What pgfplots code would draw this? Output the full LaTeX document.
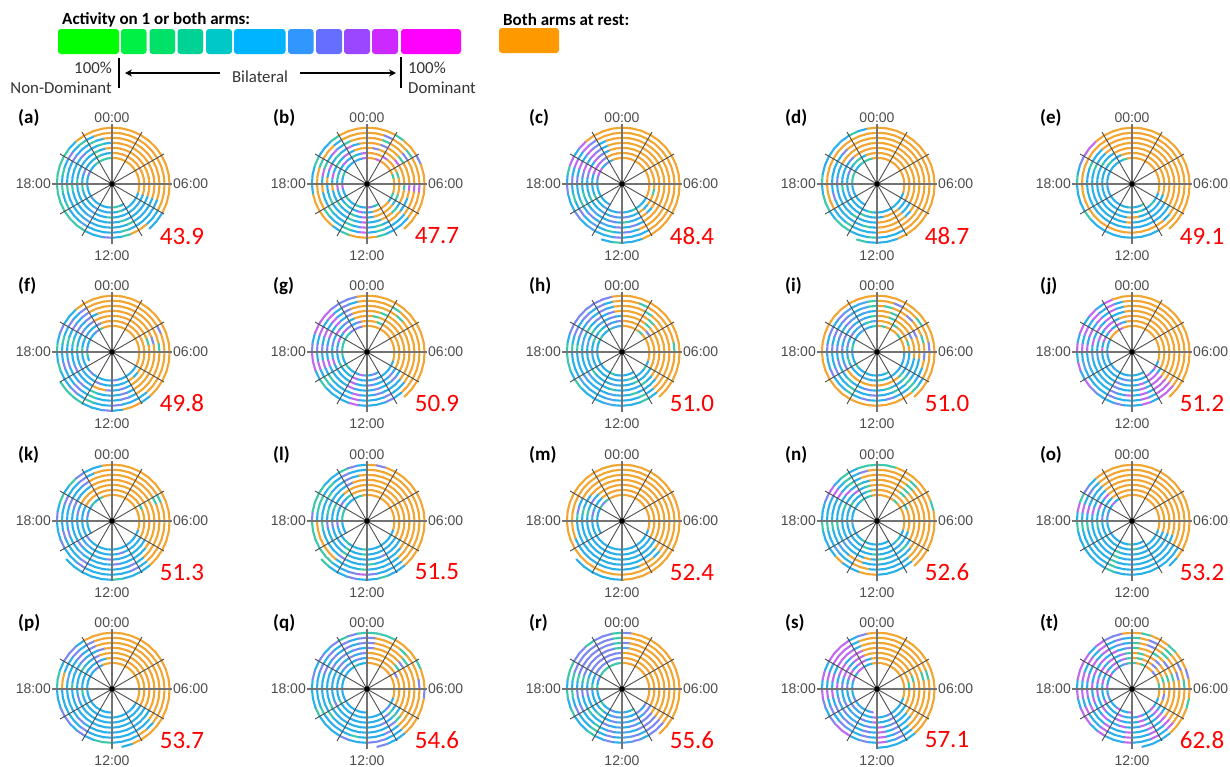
\documentclass[border=0pt]{standalone}
\usepackage{fontspec}
\setmainfont{Carlito}
\newfontfamily\arial{Liberation Sans}
\usepackage{pgfplots}
\usepackage{pgfplotstable}
\pgfplotsset{compat=1.18}
\usepgfplotslibrary{polar}
\usetikzlibrary{arrows.meta}

% one row per 10 degrees along the spiral, a = polar angle, r = radius
% pa..pt = activity class per panel: 0 blue, 1 orange, 2 green, 3 purple, 4 magenta, 5 slate
\pgfplotstableread{
a r pa pb pc pd pe pf pg ph pi pj pk pl pm pn po pp pq pr ps pt
310 23.00 0 0 0 0 0 0 0 0 0 0 0 0 0 0 0 0 0 0 0 0
300 23.14 0 2 0 0 2 0 0 0 2 0 0 0 0 0 0 0 0 2 0 0
290 23.28 2 0 0 0 0 0 3 0 0 0 0 0 0 0 0 0 0 0 0 3
280 23.42 2 4 0 0 0 0 0 0 0 0 0 0 0 0 0 0 0 5 0 0
270 23.56 0 0 3 0 2 0 0 0 0 0 5 0 0 0 2 0 0 0 0 4
260 23.70 0 0 0 2 0 0 4 0 0 0 0 0 0 0 0 0 0 0 3 0
250 23.84 0 2 0 0 0 0 0 2 0 0 0 0 0 0 0 0 0 3 0 0
240 23.98 0 0 5 0 0 0 0 0 0 0 0 0 0 2 0 0 0 0 0 4
230 24.12 0 0 0 0 0 0 0 0 0 5 0 0 0 0 0 0 0 0 5 0
220 24.26 5 2 0 0 0 0 2 0 2 0 0 0 0 0 0 0 0 2 0 0
210 24.40 0 0 0 0 0 0 0 0 0 0 0 0 0 0 0 0 0 0 3 0
200 24.54 0 0 0 0 0 0 0 0 0 0 0 0 0 0 0 0 0 0 0 3
190 24.68 0 4 0 0 0 2 2 0 0 0 0 0 0 5 0 0 0 0 0 0
180 24.82 0 0 0 2 0 3 2 0 0 0 0 2 0 0 0 0 0 2 0 4
170 24.96 0 0 3 2 0 0 2 0 2 0 3 2 0 0 3 0 0 0 0 0
160 25.10 3 2 4 2 0 0 2 0 0 0 0 2 0 0 0 0 0 3 4 0
150 25.24 0 0 4 0 0 0 2 2 0 1 0 0 2 0 0 0 0 2 0 4
140 25.38 0 0 0 0 0 0 2 0 0 1 2 0 3 0 4 0 0 2 4 0
130 25.52 2 0 3 2 0 3 3 0 5 1 0 0 2 2 0 3 0 2 4 4
120 25.66 2 5 0 2 0 2 3 2 5 4 2 0 1 0 1 0 2 2 0 0
110 25.80 2 0 1 2 2 1 3 5 0 1 1 2 1 2 1 1 0 2 0 3
100 25.94 2 4 1 1 1 1 1 5 2 1 1 1 1 1 1 1 0 2 1 2
90 26.08 1 1 1 1 1 1 1 1 1 1 1 1 1 1 1 1 1 1 1 2
80 26.22 1 1 1 1 1 1 1 1 2 1 1 1 1 1 1 1 1 1 1 1
70 26.36 1 4 1 1 1 1 1 1 1 1 1 1 1 1 1 1 1 1 1 2
60 26.50 1 1 1 1 1 1 1 1 1 1 1 1 1 1 1 1 1 1 1 1
50 26.64 1 1 1 1 1 1 1 2 1 1 1 1 1 2 1 1 1 1 1 1
40 26.78 1 1 1 1 1 1 1 1 2 1 1 1 1 1 1 1 1 1 1 3
30 26.92 1 1 1 1 1 1 1 1 1 1 1 1 1 1 1 1 1 1 1 1
20 27.06 1 2 1 1 1 1 1 1 1 1 1 1 1 1 1 1 1 1 1 1
10 27.20 1 1 1 1 1 1 1 1 1 1 1 1 1 1 1 1 1 1 1 2
0 27.34 1 1 1 1 1 1 1 1 0 1 1 1 1 1 1 1 1 1 1 1
350 27.48 1 1 1 1 1 1 1 1 5 1 1 1 1 1 1 1 1 1 1 1
340 27.62 0 2 1 0 0 1 0 0 0 0 0 0 0 0 0 1 0 1 0 0
330 27.76 0 0 0 0 0 0 0 2 0 4 0 0 0 0 0 0 0 3 0 0
320 27.90 0 1 0 0 2 0 0 0 0 0 0 0 0 2 0 0 3 0 0 4
310 28.04 0 1 0 0 0 0 0 0 0 4 0 0 0 0 0 0 0 3 0 0
300 28.18 0 1 2 0 0 0 0 0 0 0 0 0 0 0 0 0 0 0 3 0
290 28.32 2 1 0 0 2 0 3 2 0 0 0 0 0 0 0 0 0 0 0 4
280 28.46 0 0 0 0 0 3 0 0 2 0 0 0 0 0 2 0 0 5 0 0
270 28.60 0 0 3 0 0 0 0 0 0 0 0 2 0 0 0 0 0 0 4 0
260 28.74 0 4 0 2 0 0 0 0 0 3 0 0 0 0 0 0 0 3 0 0
250 28.88 0 0 0 0 0 0 4 0 5 0 0 0 0 2 0 0 0 0 0 4
240 29.02 5 0 5 0 0 0 0 0 0 0 0 0 0 0 0 0 0 0 5 0
230 29.16 0 2 0 0 0 3 0 0 0 0 0 2 0 0 0 0 0 2 0 0
220 29.30 0 0 0 0 0 0 0 0 0 0 3 0 0 0 0 0 0 0 3 0
210 29.44 0 0 2 0 0 0 2 0 0 0 0 0 0 0 0 0 2 0 0 4
200 29.58 0 0 0 5 0 0 0 0 2 0 0 0 0 0 0 0 0 0 0 0
190 29.72 2 4 0 0 0 0 0 5 0 0 0 3 0 0 0 2 0 0 0 0
180 29.86 0 0 0 0 0 2 3 0 0 4 0 0 0 0 3 0 0 2 3 0
170 30.00 0 2 0 0 0 0 0 0 3 0 0 0 3 0 0 0 0 0 0 4
160 30.14 3 0 4 3 0 0 4 2 0 4 0 0 0 0 0 0 0 0 4 0
150 30.28 0 0 4 0 0 5 0 0 3 0 1 3 0 2 0 0 0 3 4 4
140 30.42 0 4 4 2 2 0 4 2 0 4 1 0 0 0 0 0 3 3 0 0
130 30.56 0 0 3 2 0 0 3 0 5 0 1 2 1 0 1 0 0 3 4 4
120 30.70 2 2 1 0 0 3 0 3 0 4 1 1 1 0 1 3 0 3 4 0
110 30.84 0 0 1 1 1 1 3 0 2 0 1 1 1 2 1 0 3 3 0 4
100 30.98 0 4 1 1 1 1 1 3 5 1 1 1 1 1 1 1 0 3 1 2
90 31.12 1 1 1 1 1 1 1 1 1 1 1 1 1 1 1 1 1 1 1 1
80 31.26 1 1 1 1 1 1 1 1 1 1 1 1 1 1 1 1 1 1 1 2
70 31.40 1 1 1 1 1 1 2 1 1 1 1 1 1 1 1 1 1 1 1 1
60 31.54 1 4 1 1 1 1 1 1 2 1 1 1 1 1 1 1 1 1 1 1
50 31.68 1 1 1 1 1 1 1 1 1 1 1 1 1 1 1 1 1 1 1 3
40 31.82 1 1 1 1 1 1 1 3 1 1 1 1 1 1 1 1 1 1 1 1
30 31.96 1 1 1 1 1 1 1 1 1 1 2 1 1 2 1 1 3 1 1 1
20 32.10 1 2 1 1 1 1 1 1 2 1 1 1 1 1 1 1 1 1 1 2
10 32.24 1 1 1 1 1 1 1 1 1 1 1 1 1 1 1 1 1 1 2 1
0 32.38 1 1 1 1 1 1 1 1 0 1 1 1 1 1 1 1 1 1 1 1
350 32.52 1 1 2 1 1 1 1 1 0 1 1 1 1 1 1 1 1 1 1 3
340 32.66 0 2 1 1 0 1 1 1 0 1 1 1 1 0 0 1 1 1 1 1
330 32.80 0 0 1 0 0 1 0 0 0 0 0 0 0 0 0 0 0 3 0 0
320 32.94 0 1 0 0 0 0 3 0 2 4 0 0 0 0 0 0 2 3 0 4
310 33.08 0 1 1 1 0 1 0 0 1 4 0 0 0 0 0 0 3 0 0 0
300 33.22 0 1 0 1 0 0 0 2 1 0 0 0 0 0 0 0 0 3 3 0
290 33.36 0 1 0 1 0 0 0 0 1 4 3 0 0 0 0 0 0 0 0 4
280 33.50 0 0 3 0 1 0 3 0 1 0 0 0 0 0 0 0 0 5 0 0
270 33.64 2 4 0 0 1 0 0 0 1 0 0 2 0 2 0 0 0 0 4 0
260 33.78 0 0 3 0 0 0 0 5 1 0 0 0 0 0 0 0 0 3 0 0
250 33.92 0 2 0 2 0 3 4 0 1 3 0 0 0 0 2 0 0 0 3 4
240 34.06 5 0 5 0 0 0 0 0 1 0 0 2 0 0 0 0 0 0 0 0
230 34.20 0 0 0 0 0 0 0 0 1 0 5 0 0 0 0 0 0 2 5 0
220 34.34 0 2 0 0 0 0 0 2 1 0 0 0 0 5 0 0 0 0 0 4
210 34.48 0 0 2 0 0 5 0 0 3 0 0 0 0 0 0 0 3 0 3 0
200 34.62 0 0 0 0 0 0 4 0 0 0 0 0 0 0 0 3 0 0 0 0
190 34.76 0 1 0 2 0 0 0 0 0 5 0 3 0 0 2 0 0 3 0 4
180 34.90 2 0 0 0 0 2 0 0 3 0 0 0 0 0 0 0 0 0 3 0
170 35.04 0 4 3 0 0 0 3 5 0 0 3 0 2 0 0 0 0 2 0 4
160 35.18 0 0 4 0 0 0 0 0 3 4 0 2 0 2 4 0 0 0 4 0
150 35.32 0 2 0 0 2 3 4 2 0 0 1 0 3 0 0 2 0 3 4 4
140 35.46 0 0 4 3 0 0 0 0 3 4 1 0 0 0 4 0 3 3 0 0
130 35.60 0 4 3 1 0 3 3 5 0 4 1 1 1 4 1 0 0 3 4 4
120 35.74 2 0 0 1 1 1 0 0 5 0 1 1 1 0 1 3 3 3 4 0
110 35.88 0 1 1 1 1 1 1 3 0 1 1 1 1 2 1 1 0 3 1 4
100 36.02 1 1 1 1 1 1 1 0 2 1 1 1 1 1 1 1 3 3 1 2
90 36.16 1 1 1 1 1 1 1 1 1 1 1 1 1 1 1 1 1 1 1 1
80 36.30 1 3 1 1 1 1 2 1 1 1 1 1 1 1 1 1 1 1 1 2
70 36.44 1 1 1 1 1 1 1 1 2 1 1 1 1 1 1 1 1 1 1 1
60 36.58 1 1 1 1 1 1 1 1 1 1 1 1 1 1 1 1 1 1 1 1
50 36.72 1 1 1 1 1 1 1 2 1 1 1 1 1 2 1 1 1 1 1 3
40 36.86 1 4 1 1 1 1 1 1 1 1 1 1 1 1 1 1 2 1 1 1
30 37.00 1 1 1 1 1 1 1 1 3 1 1 1 1 1 1 1 1 1 1 1
20 37.14 1 1 1 1 1 2 1 1 1 1 1 1 1 1 1 1 1 1 2 2
10 37.28 1 1 1 1 1 1 1 1 1 1 1 1 1 1 1 1 1 1 1 1
0 37.42 1 2 1 1 1 1 1 1 1 1 1 1 1 1 1 1 1 1 1 1
350 37.56 1 1 1 1 1 1 1 1 0 1 1 1 1 1 1 1 1 1 1 1
340 37.70 0 1 1 1 1 1 1 1 0 1 1 1 1 1 0 1 1 1 1 1
330 37.84 0 0 1 0 0 1 0 1 0 1 0 0 0 0 0 0 0 1 1 0
320 37.98 0 2 0 0 0 1 3 0 2 4 0 0 0 2 0 0 2 3 0 4
310 38.12 0 1 1 1 0 1 0 2 0 4 0 0 0 0 0 0 0 3 0 0
300 38.26 0 1 0 1 0 0 0 0 0 0 0 3 0 0 0 0 3 0 3 0
290 38.40 2 0 0 1 0 3 3 0 2 4 0 0 0 0 0 0 0 3 0 4
280 38.54 0 0 2 1 0 0 0 0 0 0 0 0 0 2 0 0 0 0 4 0
270 38.68 0 4 0 0 1 3 0 0 0 0 3 0 0 0 0 0 0 5 0 0
260 38.82 0 0 3 0 0 1 0 2 3 0 0 0 0 1 0 0 0 0 3 4
250 38.96 0 2 0 0 0 1 4 0 0 3 0 0 0 0 2 0 0 3 0 0
240 39.10 5 0 0 2 0 0 0 0 0 0 0 2 0 0 0 0 0 0 5 0
230 39.24 0 0 5 0 0 0 0 0 2 0 0 0 0 0 0 0 0 0 0 4
220 39.38 0 0 0 0 0 0 0 5 0 0 3 0 0 5 0 0 0 2 3 0
210 39.52 0 2 0 0 0 3 0 0 0 0 0 0 0 0 0 0 2 0 0 0
200 39.66 0 0 2 0 0 0 4 0 3 0 0 0 0 0 0 0 0 0 3 4
190 39.80 2 0 0 0 0 0 0 0 0 5 0 3 0 2 0 0 0 3 0 0
180 39.94 0 1 0 3 0 0 3 0 3 0 0 0 0 0 0 2 0 0 4 4
170 40.08 0 0 3 0 0 2 0 5 0 4 0 2 2 0 4 0 0 2 0 0
160 40.22 0 4 4 0 2 0 4 0 3 0 3 0 0 0 0 0 0 3 4 4
150 40.36 0 0 0 1 0 3 0 2 0 4 0 0 0 0 0 0 3 3 4 0
140 40.50 3 2 4 1 0 0 4 0 3 0 0 0 1 4 0 3 0 3 0 4
130 40.64 0 0 3 1 1 3 0 3 5 4 0 0 1 0 1 0 3 3 4 0
120 40.78 0 4 0 1 1 0 3 0 0 0 1 3 1 2 1 0 0 3 4 4
110 40.92 2 0 1 1 1 1 1 3 5 0 1 1 1 0 1 3 3 3 1 0
100 41.06 0 1 1 1 1 1 1 1 0 1 1 1 1 1 1 1 0 2 1 3
90 41.20 1 1 1 1 1 1 1 1 1 1 1 1 1 1 1 1 3 5 1 2
80 41.34 1 1 1 1 1 1 1 1 1 1 1 1 1 1 1 1 1 1 1 1
70 41.48 1 3 1 1 1 1 2 1 2 1 1 1 1 1 1 1 1 1 1 1
60 41.62 1 1 1 1 1 1 1 1 1 1 1 1 1 1 1 1 1 1 1 2
50 41.76 1 1 1 1 1 1 1 2 1 1 1 1 1 2 1 1 1 1 1 1
40 41.90 1 2 1 1 1 1 1 1 1 1 1 1 1 1 1 1 3 1 1 3
30 42.04 1 1 1 1 1 1 1 1 3 1 1 1 1 1 1 1 1 1 1 1
20 42.18 1 1 1 1 1 3 1 1 1 1 1 1 1 1 1 1 1 1 1 2
10 42.32 1 1 1 1 1 1 1 1 1 1 1 1 1 1 1 1 1 1 1 1
0 42.46 1 4 1 1 1 1 1 1 1 1 1 1 1 1 1 1 1 1 1 1
350 42.60 1 1 1 1 1 1 1 1 0 1 1 1 1 1 1 1 1 1 1 1
340 42.74 0 0 1 1 1 1 1 1 0 1 1 1 1 1 0 1 1 1 1 1
330 42.88 0 0 1 1 0 1 1 1 0 1 1 1 1 1 0 0 1 1 1 1
320 43.02 0 1 1 0 0 1 0 0 2 4 0 0 0 0 0 0 2 3 0 4
310 43.16 0 1 1 1 0 1 0 0 0 4 0 0 0 0 0 0 3 3 0 0
300 43.30 2 0 0 1 0 0 0 0 2 0 0 0 0 0 0 0 0 3 3 4
290 43.44 0 2 3 1 0 3 3 2 0 4 0 0 0 0 0 0 0 0 0 0
280 43.58 0 0 0 1 0 0 0 0 0 0 3 2 0 0 0 0 0 5 4 0
270 43.72 0 4 3 0 0 0 0 0 3 4 0 0 0 0 0 0 0 0 0 4
260 43.86 0 0 0 2 0 0 4 5 0 0 0 0 0 0 0 0 0 3 3 0
250 44.00 0 2 5 0 0 2 0 0 0 3 0 0 0 1 2 0 0 0 0 0
240 44.14 5 0 0 0 0 0 0 0 2 0 0 3 0 1 0 0 0 2 5 4
230 44.28 0 0 3 0 0 3 0 0 0 0 5 0 0 0 0 3 0 0 3 0
220 44.42 0 2 0 0 0 0 2 5 0 0 0 0 0 5 0 0 2 0 0 0
210 44.56 0 0 2 0 0 0 0 0 3 0 0 0 0 0 0 0 0 3 3 4
200 44.70 0 0 0 3 0 3 4 0 0 5 3 0 0 0 0 0 0 0 0 0
190 44.84 2 1 0 0 0 0 0 0 0 0 0 2 0 2 2 0 0 3 4 4
180 44.98 0 0 3 0 0 0 3 2 3 4 0 0 2 0 0 0 0 0 0 0
170 45.12 0 4 0 0 0 2 0 0 0 0 0 0 3 0 4 5 0 2 4 4
160 45.26 0 2 4 0 2 0 4 3 3 4 3 0 0 0 0 0 3 3 0 0
150 45.40 3 0 0 0 0 3 0 0 0 0 0 2 1 4 0 0 0 3 4 4
140 45.54 0 4 4 3 0 0 4 3 3 4 0 0 1 0 0 3 3 3 4 0
130 45.68 0 0 3 1 1 3 0 0 5 0 3 0 1 2 1 0 0 3 4 4
120 45.82 2 2 0 1 1 1 3 3 0 4 1 3 1 0 1 3 3 3 0 0
110 45.96 0 1 1 1 1 1 1 0 5 0 1 0 1 1 1 1 0 3 1 3
100 46.10 1 1 1 1 1 1 1 1 2 1 1 1 1 1 1 1 3 2 1 0
90 46.24 1 1 1 1 1 1 1 1 1 1 1 1 1 1 1 1 3 3 1 2
80 46.38 1 1 1 1 1 1 1 1 2 1 1 1 1 1 1 1 1 1 1 1
70 46.52 1 2 1 1 1 1 1 1 1 1 1 1 1 1 1 1 1 1 1 3
60 46.66 1 1 1 1 1 1 1 2 1 1 1 1 1 1 1 1 1 1 1 1
50 46.80 1 1 1 1 1 1 2 1 3 1 1 1 1 2 1 1 1 1 1 2
40 46.94 1 3 1 1 1 1 1 1 1 1 1 1 1 1 1 1 2 1 1 1
30 47.08 1 1 1 1 1 1 1 1 1 1 2 1 1 1 1 1 1 1 1 1
20 47.22 1 1 1 1 1 1 1 1 2 1 1 1 1 1 1 1 1 1 2 3
10 47.36 1 1 1 1 1 2 1 1 1 1 1 1 1 1 1 1 1 1 1 1
0 47.50 1 4 1 1 1 1 1 1 3 1 1 1 1 1 1 1 1 1 1 1
350 47.64 1 1 1 1 1 1 1 1 1 1 1 1 1 1 1 1 1 1 1 1
340 47.78 0 1 1 1 1 1 1 1 0 1 1 1 1 1 1 1 1 1 1 1
330 47.92 0 1 1 1 1 1 1 1 0 1 1 1 1 1 0 1 1 1 1 1
320 48.06 0 0 1 1 0 1 0 1 2 4 1 1 0 1 0 0 1 3 1 4
310 48.20 0 0 1 1 1 1 0 0 0 4 0 0 1 0 0 0 0 3 0 0
300 48.34 0 0 1 1 1 0 3 2 0 0 3 0 1 0 0 0 3 0 3 4
290 48.48 2 2 0 1 1 3 0 0 3 4 0 0 0 0 0 0 0 3 0 0
280 48.62 0 0 3 1 1 0 0 0 0 0 0 0 0 0 0 0 0 5 4 0
270 48.76 0 4 0 0 1 0 0 0 0 0 0 2 0 0 0 0 0 0 0 4
260 48.90 0 0 2 0 1 0 4 5 3 0 0 0 0 1 0 0 2 3 3 0
250 49.04 0 2 0 0 1 2 0 0 0 3 0 0 0 1 2 0 0 0 0 0
240 49.18 5 0 5 2 1 0 0 0 2 0 3 0 0 0 0 3 0 2 5 4
230 49.32 0 0 0 0 1 3 0 0 0 0 0 1 0 0 0 0 0 0 3 0
220 49.46 0 2 3 0 1 0 2 5 0 0 0 1 0 5 0 0 0 0 0 0
210 49.60 2 1 0 1 1 0 0 0 3 0 0 1 0 0 0 0 2 3 3 4
200 49.74 0 1 2 1 1 3 4 0 0 5 3 1 1 0 0 0 0 0 0 0
190 49.88 2 1 0 1 1 0 0 0 0 0 0 1 1 2 2 0 0 2 4 4
180 50.02 0 1 3 1 1 0 3 2 3 4 0 0 1 0 0 1 0 0 0 0
170 50.16 2 1 0 1 1 2 0 0 0 0 0 2 1 0 4 1 0 2 4 4
160 50.30 0 2 4 1 1 0 4 3 3 4 3 2 1 0 0 0 3 3 0 0
150 50.44 3 1 0 1 1 3 0 0 0 0 0 0 1 4 3 0 0 3 4 4
140 50.58 0 1 4 1 1 0 4 3 3 4 0 2 1 0 0 3 3 3 4 0
130 50.72 2 0 3 1 1 3 0 0 5 0 3 0 1 2 1 0 0 3 4 4
120 50.86 0 1 1 1 1 1 3 3 0 4 0 3 1 0 1 3 3 3 0 0
110 51.00 1 1 1 1 1 1 0 0 5 0 1 0 1 3 1 1 0 3 1 3
100 51.14 1 1 1 1 1 1 1 1 2 1 1 0 1 1 1 1 3 2 1 0
90 51.28 1 1 1 1 1 1 1 1 1 1 1 1 1 1 1 1 3 1 1 2
80 51.42 1 1 1 1 1 1 1 1 1 1 1 1 1 1 1 1 1 1 1 1
70 51.56 1 3 1 1 1 1 1 2 3 1 1 1 1 1 1 1 1 1 1 3
60 51.70 1 1 1 1 1 1 2 1 1 1 1 1 1 1 1 1 1 1 1 1
50 51.84 1 1 1 1 1 1 1 1 1 1 1 1 1 2 1 1 2 1 1 2
40 51.98 1 2 1 1 1 1 1 1 2 1 1 1 1 1 1 1 1 1 1 1
30 52.12 1 1 1 1 1 3 1 1 1 1 2 1 1 1 1 1 1 1 1 3
20 52.26 1 1 1 1 1 1 1 1 1 1 1 1 1 1 1 1 1 1 2 1
10 52.40 1 1 1 1 1 1 1 2 3 1 1 1 1 1 1 1 3 1 1 2
0 52.54 1 4 1 1 1 1 1 1 1 1 1 1 1 1 1 1 1 1 1 1
350 52.68 1 1 1 1 1 1 1 1 1 1 1 1 1 1 1 1 1 1 1 1
340 52.82 1 1 1 1 1 1 1 1 1 1 1 1 1 1 1 1 1 1 1 1
330 52.96 0 1 1 1 1 1 1 1 0 1 1 1 1 1 0 1 1 1 1 1
320 53.10 0 0 1 1 1 1 1 1 2 4 1 1 1 1 0 0 1 3 1 4
310 53.24 1 0 1 1 1 0 0 0 1 4 0 0 1 0 0 1 0 3 0 0
300 53.38 1 0 0 0 0 0 3 2 1 0 3 0 1 0 0 0 0 0 3 4
290 53.52 2 2 0 0 0 0 0 0 1 4 0 0 1 0 0 0 3 3 0 0
280 53.66 0 1 0 0 0 3 0 0 1 0 0 3 1 0 0 0 3 5 4 0
270 53.80 3 1 3 2 0 0 0 0 1 0 0 4 1 1 0 2 0 0 0 4
260 53.94 0 1 0 0 0 0 4 5 1 3 0 3 1 1 0 2 0 3 3 0
250 54.08 0 2 0 0 0 2 0 0 1 0 0 0 1 0 2 0 3 0 0 0
240 54.22 2 0 5 2 0 0 0 0 1 0 3 0 1 0 0 3 0 2 4 4
230 54.36 2 1 0 2 0 3 0 0 1 3 0 2 1 1 0 0 0 0 4 0
220 54.50 2 1 3 0 2 0 2 2 1 4 0 2 1 0 0 3 0 0 3 4
210 54.64 2 1 0 2 0 0 0 0 1 0 3 2 1 0 0 3 2 2 0 4
200 54.78 2 1 0 2 0 2 4 2 1 4 0 2 1 0 0 0 0 0 3 0
190 54.92 2 0 3 0 0 0 4 2 1 0 0 2 1 2 2 0 0 2 4 4
180 55.06 2 0 0 2 2 2 3 2 1 4 3 3 1 0 0 2 0 0 0 0
170 55.20 2 0 2 0 0 0 0 0 1 0 0 2 1 0 4 2 3 2 4 4
160 55.34 2 2 4 0 3 3 4 3 1 4 2 2 1 3 2 0 0 2 0 4
150 55.48 2 0 0 0 4 0 4 3 1 0 0 2 1 4 3 3 3 3 4 4
140 55.62 0 0 4 0 4 0 4 3 1 4 2 0 1 0 0 3 0 3 4 0
130 55.76 1 2 1 0 1 1 3 3 1 0 3 0 1 2 1 0 3 2 4 4
120 55.90 1 1 1 2 1 1 3 3 1 4 0 2 1 0 1 1 2 3 0 3
110 56.04 1 1 1 0 1 1 3 3 1 1 0 3 1 2 1 1 3 3 3 3
100 56.18 1 1 1 1 1 1 1 1 1 1 1 0 1 2 1 1 2 2 1 1
90 56.32 1 1 1 1 1 1 1 1 1 1 1 1 1 2 1 1 2 3 1 1
80 56.46 1 1 1 1 1 1 1 1 1 1 1 3 1 2 1 1 2 1 1 2
70 56.60 1 1 1 1 1 1 1 1 1 1 1 1 1 1 1 1 2 1 1 1
60 56.74 1 2 1 1 1 1 1 1 1 1 1 1 1 1 1 1 1 1 1 1
50 56.88 1 1 1 1 1 1 1 1 1 1 1 1 1 1 1 1 1 1 1 2
40 57.02 1 1 1 1 1 1 1 1 1 1 1 1 1 1 1 1 1 1 1 1
30 57.16 1 3 1 1 1 1 1 1 1 1 1 1 1 1 1 1 2 1 1 1
20 57.30 1 1 1 1 1 1 1 1 1 1 1 1 1 2 1 1 1 1 1 3
10 57.44 1 1 1 1 1 1 1 1 1 1 1 1 1 1 1 1 1 1 1 1
0 57.58 1 1 1 1 1 1 1 1 1 1 1 1 1 1 1 1 3 1 1 1
350 57.72 1 1 1 1 1 1 1 1 1 1 1 1 1 1 1 1 1 1 1 2
340 57.86 1 1 1 1 1 1 1 1 1 1 1 1 1 1 1 1 1 1 1 1
330 58.00 0 1 1 1 1 1 1 1 1 1 1 1 1 1 1 1 1 1 1 1
320 58.14 0 1 1 1 1 1 1 1 1 1 1 1 1 1 0 1 1 1 1 1
310 58.28 0 0 1 1 1 0 0 0 1 0 0 0 1 0 0 1 0 0 0 0
300 58.42 0 0 1 1 1 1 0 0 0 0 0 0 1 0 0 1 0 0 0 0
290 58.56 0 0 0 0 0 1 0 0 0 0 0 2 1 0 0 0 3 0 0 0
280 58.70 0 0 0 0 0 0 0 0 0 0 2 0 1 0 0 0 0 0 0 0
270 58.84 0 0 2 0 0 3 0 0 0 0 0 0 0 0 0 0 0 0 3 0
260 58.98 0 0 0 2 0 0 0 0 0 0 0 3 0 0 0 0 0 0 0 0
250 59.12 0 0 0 0 0 0 0 0 0 0 0 0 0 0 0 0 0 0 0 0
240 59.26 0 0 0 2 0 2 0 0 0 0 0 0 0 0 0 0 0 0 0 0
230 59.40 0 0 0 0 0 2 0 0 0 0 0 2 0 0 0 0 0 0 0 0
220 59.54 0 0 0 0 0 2 0 0 0 0 2 0 2 0 0 0 0 0 0 0
210 59.68 0 0 0 0 0 2 0 0 0 0 0 2 0 0 0 0 0 0 0 0
200 59.82 0 0 0 0 0 2 0 0 0 0 0 0 0 0 0 0 0 0 0 0
}\skel

\pgfplotsset{
  panel/.style={
    at={(#1)}, anchor=center, scale only axis, width=120pt, height=120pt,
    xmin=0, xmax=360, ymin=0, ymax=60, clip=false, axis on top,
    axis line style={draw=none}, tick style={draw=none},
    xtick={0,90,180,270}, xticklabels={06:00,00:00,18:00,\rule{0pt}{15pt}12:00},
    extra x ticks={30,60,120,150,210,240,300,330},
    extra x tick labels={},
    extra x tick style={grid style={draw=black!70, line width=0.9pt}},
    ytick=\empty, xmajorgrids,
    grid style={draw=black!55, line width=1.1pt},
    xticklabel style={font=\arial\fontsize{14}{14}\selectfont, text=black!70, inner sep=1pt},
    colormap={act}{rgb255=(41,176,235) rgb255=(243,165,50) rgb255=(60,200,170) rgb255=(125,135,240) rgb255=(190,105,240) rgb255=(80,165,240)},
    point meta min=0, point meta max=5,
  },
}
% centre x, centre y, column, first row, row after last
\newcommand\panel[5]{%
\begin{polaraxis}[panel={#1pt,-#2pt}]
\addplot[mesh, shader=flat corner, point meta=\thisrow{#3}, line width=2.1pt, line cap=round,
  skip coords between index={0}{#4}, skip coords between index={#5}{300}] table[x=a,y=r] {\skel};
\addplot[only marks, mark=*, mark size=2.4pt, black] coordinates {(0,0)};
\end{polaraxis}}
% swatch: colour, x0, x1, y0, y1
\newcommand\swatch[5]{\addplot[draw=none, fill={rgb,255:red,#1}, rounded corners=3pt]
  coordinates {(#2,#4) (#3,#4) (#3,#5) (#2,#5)} -- cycle;}
\newcommand\tag[3]{\node[anchor=west, inner sep=0pt, font=\bfseries\fontsize{19}{19}\selectfont] at (axis cs:#1,#2) {(#3)};}
\newcommand\val[3]{\node[inner sep=0pt, text=red, font=\fontsize{25}{25}\selectfont] at (axis cs:#1,#2) {#3};}

\begin{document}
\begin{tikzpicture}
\path[use as bounding box] (0,-767pt) rectangle (1230pt,0pt);
\begin{axis}[at={(0pt,-767pt)}, anchor=south west, scale only axis, width=1230pt, height=767pt,
  xmin=0, xmax=1230, ymin=0, ymax=767, y dir=reverse, hide axis, clip=false]
\swatch{0;green,255;blue,0}{58}{119}{29}{54}
\swatch{0;green,240;blue,70}{121}{146.5}{29}{54}
\swatch{0;green,225;blue,105}{149.5}{175}{29}{54}
\swatch{0;green,210;blue,150}{177.5}{203}{29}{54}
\swatch{0;green,200;blue,200}{206}{232}{29}{54}
\swatch{0;green,180;blue,255}{234}{285.5}{29}{54}
\swatch{50;green,150;blue,255}{288}{313.5}{29}{54}
\swatch{102;green,110;blue,255}{316}{342}{29}{54}
\swatch{155;green,70;blue,255}{344}{370}{29}{54}
\swatch{205;green,40;blue,255}{372}{398}{29}{54}
\swatch{255;green,0;blue,255}{401}{461}{29}{54}
\swatch{255;green,153;blue,0}{499}{559}{28}{53}
\node[anchor=west, inner sep=0pt, font=\bfseries\fontsize{17}{17}\selectfont] at (axis cs:62,20) {Activity on 1 or both arms:};
\node[anchor=west, inner sep=0pt, font=\bfseries\fontsize{17}{17}\selectfont] at (axis cs:503,20) {Both arms at rest:};
\draw[line width=2pt] (axis cs:119,58) -- (axis cs:119,88);
\draw[line width=2pt] (axis cs:401,57) -- (axis cs:401,88);
\draw[-{Stealth[length=7pt,width=7pt]}, line width=1.7pt] (axis cs:220,73) -- (axis cs:125,73);
\draw[-{Stealth[length=7pt,width=7pt]}, line width=1.7pt] (axis cs:300,73) -- (axis cs:396,73);
\begin{scope}[every node/.style={inner sep=0pt, font=\fontsize{16.8}{17}\selectfont, text=black!80}]
\node at (axis cs:260,77) {Bilateral};
\node[anchor=east] at (axis cs:112,68) {100\%};
\node[anchor=east] at (axis cs:112,88) {Non-Dominant};
\node[anchor=west] at (axis cs:408,68) {100\%};
\node[anchor=west] at (axis cs:408,88) {Dominant};
\end{scope}
\tag{18}{118}{a}\tag{273}{118}{b}\tag{529}{118}{c}\tag{785}{118}{d}\tag{1040}{118}{e}
\tag{18}{286}{f}\tag{273}{286}{g}\tag{529}{286}{h}\tag{785}{286}{i}\tag{1040}{286}{j}
\tag{18}{455}{k}\tag{273}{455}{l}\tag{529}{455}{m}\tag{785}{455}{n}\tag{1040}{455}{o}
\tag{18}{623}{p}\tag{273}{623}{q}\tag{529}{623}{r}\tag{785}{623}{s}\tag{1040}{623}{t}
\val{182}{236}{43.9}\val{437}{236}{47.7}\val{692}{236}{48.4}\val{947}{236}{48.7}\val{1202}{236}{49.1}
\val{182}{403}{49.8}\val{437}{403}{50.9}\val{692}{403}{51.0}\val{947}{403}{51.0}\val{1202}{403}{51.2}
\val{182}{572}{51.3}\val{437}{572}{51.5}\val{692}{572}{52.4}\val{947}{572}{52.6}\val{1202}{572}{53.2}
\val{182}{740}{53.7}\val{437}{740}{54.6}\val{692}{740}{55.6}\val{947}{740}{57.1}\val{1202}{740}{62.8}
\end{axis}
\panel{112}{184}{pa}{1}{253}
\panel{367}{184}{pb}{1}{253}
\panel{622}{184}{pc}{7}{259}
\panel{877}{184}{pd}{7}{259}
\panel{1132}{184}{pe}{1}{253}
\panel{112}{352}{pf}{11}{263}
\panel{367}{352}{pg}{1}{253}
\panel{622}{352}{ph}{1}{253}
\panel{877}{352}{pi}{1}{253}
\panel{1132}{352}{pj}{1}{253}
\panel{112}{521}{pk}{10}{262}
\panel{367}{521}{pl}{10}{262}
\panel{622}{521}{pm}{10}{262}
\panel{877}{521}{pn}{1}{253}
\panel{1132}{521}{po}{1}{253}
\panel{112}{689}{pp}{4}{256}
\panel{367}{689}{pq}{4}{256}
\panel{622}{689}{pr}{1}{253}
\panel{877}{689}{ps}{5}{257}
\panel{1132}{689}{pt}{4}{256}
\end{tikzpicture}
\end{document}
